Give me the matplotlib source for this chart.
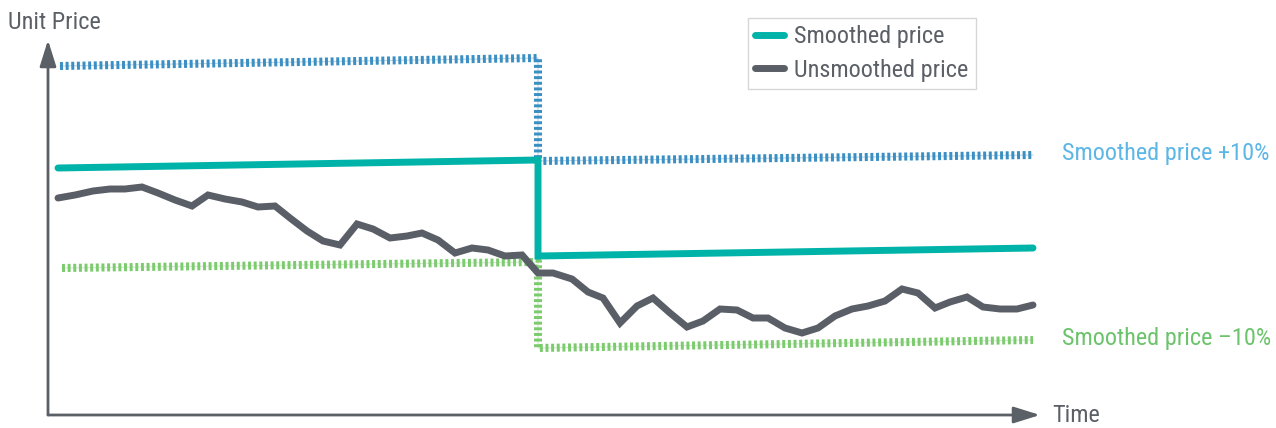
from matplotlib import pyplot as plt
from matplotlib import font_manager
from matplotlib.lines import Line2D

# pick a narrow sans if one is installed
names = set(f.name for f in font_manager.fontManager.ttflist)
font = 'Roboto'
for cand in ['Roboto Condensed', 'Liberation Sans Narrow', 'DejaVu Sans Condensed']:
    if cand in names:
        font = cand
        break
plt.rcParams['font.family'] = [font, 'DejaVu Sans']

# unsmoothed price
time = [10, 27, 45, 62, 77, 94, 110, 127, 144, 160, 177, 194, 210, 227, 242,
        259, 275, 292, 309, 325, 342, 359, 374, 390, 407, 424, 440, 457, 474,
        490, 505, 524, 540, 555, 572, 589, 605, 622, 639, 655, 672, 689, 705,
        720, 737, 754, 770, 787, 804, 820, 837, 854, 870, 887, 902, 919, 935,
        952, 969, 985]
unsmoothed = [217, 220, 224, 226, 226, 228, 222, 215, 209, 220, 216, 213, 208,
              209, 197, 184, 174, 170, 191, 186, 177, 179, 182, 175, 162, 167,
              165, 159, 160, 142, 142, 136, 123, 117, 92, 109, 117, 102, 88, 94,
              106, 105, 97, 97, 87, 82, 87, 99, 106, 109, 114, 126, 122, 107,
              113, 118, 108, 106, 106, 110]

# smoothed price and its +/-10% bands (step at the reset)
smooth_t = [10, 490, 490, 985]
smoothed = [247, 255, 159, 167]
upper_t = [12, 490, 490, 985]
upper = [349, 357, 254, 260]
lower_t = [14, 490, 490, 985]
lower = [147, 153, 67, 75]

axis_col = '#5b5f66'
teal = '#00b3a9'
grey = '#5a5e66'
blue = '#3b8fc2'
blue_txt = '#5cb6e6'
green = '#7dcb6f'
green_txt = '#6cc36c'

fig = plt.figure(figsize=(12.76, 4.28), dpi=100)
ax = fig.add_axes([0, 0, 1, 1])
ax.set_xlim(-48, 1228)
ax.set_ylim(-13, 415)
ax.axis('off')

# bands drawn as short ticks over a faint thin line
dots = (0, (0.37, 0.33))
for bt, bv, c in [(upper_t, upper, blue), (lower_t, lower, green)]:
    ax.plot(bt, bv, color=c, lw=0.8, alpha=0.35)
    ax.plot(bt, bv, color=c, lw=5.8, linestyle=dots, dash_capstyle='butt')
ax.plot(smooth_t, smoothed, color=teal, lw=5, solid_capstyle='round', solid_joinstyle='miter')
ax.plot(time, unsmoothed, color=grey, lw=5, solid_capstyle='round', solid_joinstyle='miter')

# axes with arrow heads
arrow = dict(arrowstyle='-|>,head_length=0.8,head_width=0.25', mutation_scale=20,
             lw=2, color=axis_col, shrinkA=0, shrinkB=0)
ax.annotate('', xy=(0, 375), xytext=(0, 0), arrowprops=arrow)
ax.annotate('', xy=(992, 0), xytext=(0, 0), arrowprops=arrow)

fs = 17.5
ax.text(-40, 393, 'Unit Price', color=axis_col, fontsize=fs, va='center', ha='left')
ax.text(1004, 0, 'Time', color=axis_col, fontsize=fs, va='center', ha='left')
ax.text(1014, 262, 'Smoothed price +10%', color=blue_txt, fontsize=fs, va='center', ha='left')
ax.text(1014, 77, 'Smoothed price \u201310%', color=green_txt, fontsize=fs, va='center', ha='left')

handles = [Line2D([], [], color=teal, lw=5, solid_capstyle='round'),
           Line2D([], [], color=grey, lw=5, solid_capstyle='round')]
leg = ax.legend(handles, ['Smoothed price', 'Unsmoothed price'], loc='upper left',
                bbox_to_anchor=(748 / 1276, 1 - 18 / 428), bbox_transform=fig.transFigure,
                borderaxespad=0, fancybox=False, fontsize=fs, handlelength=1.2,
                handletextpad=0.4, labelspacing=0.43, borderpad=0.3)
leg.get_frame().set_edgecolor('#cccccc')
leg.get_frame().set_linewidth(1)
for t in leg.get_texts():
    t.set_color(axis_col)

fig.savefig('out.png', dpi=100)
